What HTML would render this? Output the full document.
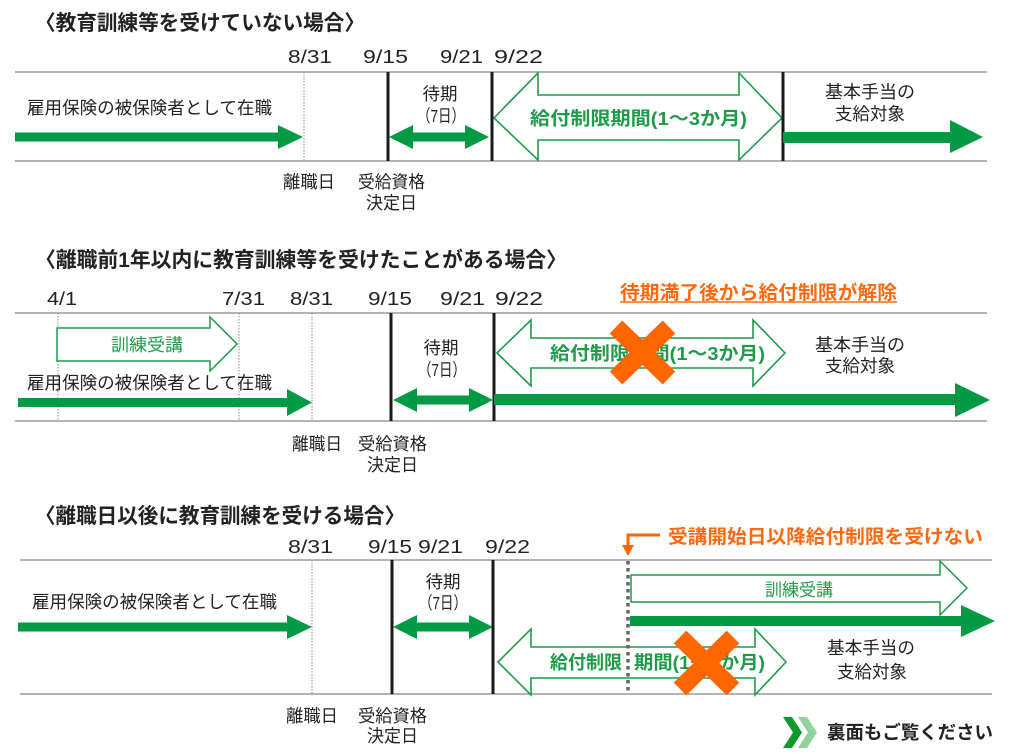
<!DOCTYPE html>
<html>
<head>
<meta charset="utf-8">
<style>
html,body{margin:0;padding:0;background:#fff;}
svg{display:block;}
text{font-family:"Liberation Sans","Noto Sans CJK JP",sans-serif;}
.t{font-size:21px;font-weight:bold;fill:#222;}
.d{font-size:18px;fill:#222;}
.b{font-size:17.5px;fill:#222;}
.g{font-size:18.5px;font-weight:bold;fill:#1f9a48;}
.gn{font-size:17.5px;fill:#1f9a48;}
.o{font-size:19px;font-weight:bold;fill:#ff6a10;}
</style>
</head>
<body>
<svg width="1024" height="754" viewBox="0 0 1024 754" xmlns="http://www.w3.org/2000/svg">
<!-- ================= Section 1 ================= -->
<text class="t" x="35" y="30" textLength="330" lengthAdjust="spacingAndGlyphs">〈教育訓練等を受けていない場合〉</text>
<text class="d" x="288" y="63" textLength="44" lengthAdjust="spacingAndGlyphs">8/31</text>
<text class="d" x="363" y="63" textLength="45" lengthAdjust="spacingAndGlyphs">9/15</text>
<text class="d" x="440" y="63" textLength="43" lengthAdjust="spacingAndGlyphs">9/21</text>
<text class="d" x="494" y="63" textLength="49" lengthAdjust="spacingAndGlyphs">9/22</text>

<line x1="15" y1="72" x2="987" y2="72" stroke="#9a9a9a" stroke-width="1.5"/>
<line x1="15" y1="161" x2="987" y2="161" stroke="#9a9a9a" stroke-width="1.5"/>
<line x1="304" y1="72" x2="304" y2="161" stroke="#888" stroke-width="1" stroke-dasharray="1.5 1.5"/>

<!-- hollow double arrow -->
<polygon points="494,118 538,73 538,95 739,95 739,73 782,118 739,160 739,140 538,140 538,160" fill="#fff" stroke="#1f9a48" stroke-width="1.6"/>
<text class="g" x="530" y="125" textLength="217" lengthAdjust="spacingAndGlyphs">給付制限期間(1〜3か月)</text>

<line x1="388" y1="72" x2="388" y2="161" stroke="#1a1a1a" stroke-width="3"/>
<line x1="492" y1="72" x2="492" y2="161" stroke="#1a1a1a" stroke-width="3"/>
<line x1="783" y1="72" x2="783" y2="161" stroke="#1a1a1a" stroke-width="3"/>

<text class="b" x="27" y="114" textLength="245" lengthAdjust="spacingAndGlyphs">雇用保険の被保険者として在職</text>
<polygon points="15,132.5 278,132.5 278,125 303,137 278,149 278,141.5 15,141.5" fill="#009944"/>

<!-- wait double arrow -->
<polygon points="389,137 413,125 413,132.5 465,132.5 465,125 489,137 465,149 465,141.5 413,141.5 413,149" fill="#009944"/>
<text class="b" x="440" y="100" text-anchor="middle" textLength="35" lengthAdjust="spacingAndGlyphs">待期</text>
<text class="b" x="441" y="122" text-anchor="middle" textLength="48" lengthAdjust="spacingAndGlyphs">（7日）</text>

<text class="b" x="870" y="98" text-anchor="middle" textLength="90" lengthAdjust="spacingAndGlyphs">基本手当の</text>
<text class="b" x="870" y="120" text-anchor="middle" textLength="70" lengthAdjust="spacingAndGlyphs">支給対象</text>
<polygon points="783,132 950,132 950,120 983,137 950,153 950,143 783,143" fill="#009944"/>

<text class="b" x="283" y="188" textLength="52" lengthAdjust="spacingAndGlyphs">離職日</text>
<text class="b" x="358" y="188" textLength="67" lengthAdjust="spacingAndGlyphs">受給資格</text>
<text class="b" x="366" y="209" textLength="51" lengthAdjust="spacingAndGlyphs">決定日</text>

<!-- ================= Section 2 ================= -->
<text class="t" x="35" y="267" textLength="532" lengthAdjust="spacingAndGlyphs">〈離職前1年以内に教育訓練等を受けたことがある場合〉</text>
<text class="d" x="47" y="305" textLength="30" lengthAdjust="spacingAndGlyphs">4/1</text>
<text class="d" x="222" y="305" textLength="43" lengthAdjust="spacingAndGlyphs">7/31</text>
<text class="d" x="290" y="305" textLength="43" lengthAdjust="spacingAndGlyphs">8/31</text>
<text class="d" x="368" y="305" textLength="44" lengthAdjust="spacingAndGlyphs">9/15</text>
<text class="d" x="440" y="305" textLength="45" lengthAdjust="spacingAndGlyphs">9/21</text>
<text class="d" x="495" y="305" textLength="48" lengthAdjust="spacingAndGlyphs">9/22</text>

<text class="o" x="620" y="299" textLength="277" lengthAdjust="spacingAndGlyphs">待期満了後から給付制限が解除</text>
<line x1="620" y1="302" x2="897" y2="302" stroke="#ff6a10" stroke-width="1.5"/>

<line x1="15" y1="313" x2="987" y2="313" stroke="#9a9a9a" stroke-width="1.5"/>
<line x1="15" y1="421" x2="987" y2="421" stroke="#9a9a9a" stroke-width="1.5"/>
<line x1="58" y1="313" x2="58" y2="421" stroke="#888" stroke-width="1" stroke-dasharray="1.5 1.5"/>
<line x1="239" y1="313" x2="239" y2="421" stroke="#888" stroke-width="1" stroke-dasharray="1.5 1.5"/>
<line x1="312" y1="313" x2="312" y2="421" stroke="#888" stroke-width="1" stroke-dasharray="1.5 1.5"/>

<!-- training hollow arrow -->
<polygon points="57,328 210,328 210,317 237,344 210,371 210,361 57,361" fill="#fff" stroke="#1f9a48" stroke-width="1.5"/>
<text class="gn" x="147" y="351" text-anchor="middle" textLength="72" lengthAdjust="spacingAndGlyphs">訓練受講</text>

<text class="b" x="27" y="389" textLength="245" lengthAdjust="spacingAndGlyphs">雇用保険の被保険者として在職</text>
<polygon points="18,398 287,398 287,389 312,402.5 287,416 287,407 18,407" fill="#009944"/>

<polygon points="393,400 417,388 417,395.5 469,395.5 469,388 493,400 469,412 469,404.5 417,404.5 417,412" fill="#009944"/>
<text class="b" x="441" y="354" text-anchor="middle" textLength="35" lengthAdjust="spacingAndGlyphs">待期</text>
<text class="b" x="442" y="376" text-anchor="middle" textLength="48" lengthAdjust="spacingAndGlyphs">（7日）</text>

<!-- hollow double arrow -->
<polygon points="497,353 531,320 531,338 753,338 753,320 785,353 753,386 753,368 531,368 531,386" fill="#fff" stroke="#1f9a48" stroke-width="1.6"/>
<text class="g" x="550" y="360" textLength="215" lengthAdjust="spacingAndGlyphs">給付制限期間(1〜3か月)</text>

<line x1="391" y1="313" x2="391" y2="421" stroke="#1a1a1a" stroke-width="3"/>
<line x1="494" y1="313" x2="494" y2="421" stroke="#1a1a1a" stroke-width="3"/>

<polygon points="494,394 955,394 955,383 990,400 955,417 955,405 494,405" fill="#009944"/>

<text class="b" x="860" y="351" text-anchor="middle" textLength="90" lengthAdjust="spacingAndGlyphs">基本手当の</text>
<text class="b" x="860" y="372" text-anchor="middle" textLength="70" lengthAdjust="spacingAndGlyphs">支給対象</text>

<!-- orange X -->
<line x1="616" y1="327" x2="669" y2="378" stroke="#ff6600" stroke-width="18"/>
<line x1="669" y1="327" x2="616" y2="378" stroke="#ff6600" stroke-width="18"/>

<text class="b" x="292" y="450" textLength="50" lengthAdjust="spacingAndGlyphs">離職日</text>
<text class="b" x="358" y="450" textLength="69" lengthAdjust="spacingAndGlyphs">受給資格</text>
<text class="b" x="367" y="471" textLength="51" lengthAdjust="spacingAndGlyphs">決定日</text>

<!-- ================= Section 3 ================= -->
<text class="t" x="35" y="523" textLength="370" lengthAdjust="spacingAndGlyphs">〈離職日以後に教育訓練を受ける場合〉</text>
<text class="d" x="288" y="553" textLength="45" lengthAdjust="spacingAndGlyphs">8/31</text>
<text class="d" x="368" y="553" textLength="44" lengthAdjust="spacingAndGlyphs">9/15</text>
<text class="d" x="418" y="553" textLength="45" lengthAdjust="spacingAndGlyphs">9/21</text>
<text class="d" x="485" y="553" textLength="45" lengthAdjust="spacingAndGlyphs">9/22</text>

<!-- orange L arrow + text -->
<polyline points="660,535 628,535 628,547" fill="none" stroke="#ff6600" stroke-width="3"/>
<polygon points="622,545 634,545 628,556" fill="#ff6600"/>
<text class="o" x="668" y="543" textLength="315" lengthAdjust="spacingAndGlyphs">受講開始日以降給付制限を受けない</text>

<line x1="20" y1="560" x2="992" y2="560" stroke="#9a9a9a" stroke-width="1.5"/>
<line x1="20" y1="694" x2="992" y2="694" stroke="#9a9a9a" stroke-width="1.5"/>
<line x1="312" y1="560" x2="312" y2="694" stroke="#888" stroke-width="1" stroke-dasharray="1.5 1.5"/>

<text class="b" x="32" y="608" textLength="245" lengthAdjust="spacingAndGlyphs">雇用保険の被保険者として在職</text>
<polygon points="18,622.5 287,622.5 287,615 312,627 287,639 287,631.5 18,631.5" fill="#009944"/>

<polygon points="393,627 417,615 417,622.5 469,622.5 469,615 493,627 469,639 469,631.5 417,631.5 417,639" fill="#009944"/>
<text class="b" x="443" y="588" text-anchor="middle" textLength="35" lengthAdjust="spacingAndGlyphs">待期</text>
<text class="b" x="443" y="609" text-anchor="middle" textLength="48" lengthAdjust="spacingAndGlyphs">（7日）</text>

<!-- training hollow arrow -->
<polygon points="631,575 940,575 940,561 967,588 940,615 940,602 631,602" fill="#fff" stroke="#1f9a48" stroke-width="1.5"/>
<text class="gn" x="799" y="596" text-anchor="middle" textLength="68" lengthAdjust="spacingAndGlyphs">訓練受講</text>

<polygon points="630,616 961,616 961,605 995,621 961,637 961,626 630,626" fill="#009944"/>

<!-- lower hollow double arrow -->
<polygon points="498,662 531,629 531,647 755,647 755,629 786,662 755,695 755,678 531,678 531,695" fill="#fff" stroke="#1f9a48" stroke-width="1.6"/>
<text class="g" x="550" y="669" textLength="72" lengthAdjust="spacingAndGlyphs">給付制限</text>
<text class="g" x="634" y="669" textLength="131" lengthAdjust="spacingAndGlyphs">期間(1〜3か月)</text>

<line x1="392" y1="560" x2="392" y2="694" stroke="#1a1a1a" stroke-width="3"/>
<line x1="493" y1="560" x2="493" y2="694" stroke="#1a1a1a" stroke-width="3"/>

<!-- gray dotted line -->
<line x1="628" y1="561" x2="628" y2="694" stroke="#666" stroke-width="3.5" stroke-dasharray="3.5 3.5"/>

<!-- orange X -->
<line x1="680" y1="637" x2="733" y2="689" stroke="#ff6600" stroke-width="18"/>
<line x1="733" y1="637" x2="680" y2="689" stroke="#ff6600" stroke-width="18"/>

<text class="b" x="871" y="654" text-anchor="middle" textLength="88" lengthAdjust="spacingAndGlyphs">基本手当の</text>
<text class="b" x="872" y="678" text-anchor="middle" textLength="70" lengthAdjust="spacingAndGlyphs">支給対象</text>

<text class="b" x="286" y="722" textLength="52" lengthAdjust="spacingAndGlyphs">離職日</text>
<text class="b" x="358" y="722" textLength="69" lengthAdjust="spacingAndGlyphs">受給資格</text>
<text class="b" x="367" y="742" textLength="51" lengthAdjust="spacingAndGlyphs">決定日</text>

<!-- footer chevrons -->
<polygon points="783,717 792,717 802,732.5 792,748 783,748 793,732.5" fill="#109a2c"/>
<polygon points="798,717 807,717 817,732.5 807,748 798,748 808,732.5" fill="#8fd39a"/>
<text x="827" y="739" style="font-size:18.5px;font-weight:bold;fill:#222;" textLength="166" lengthAdjust="spacingAndGlyphs">裏面もご覧ください</text>
</svg>
</body>
</html>
